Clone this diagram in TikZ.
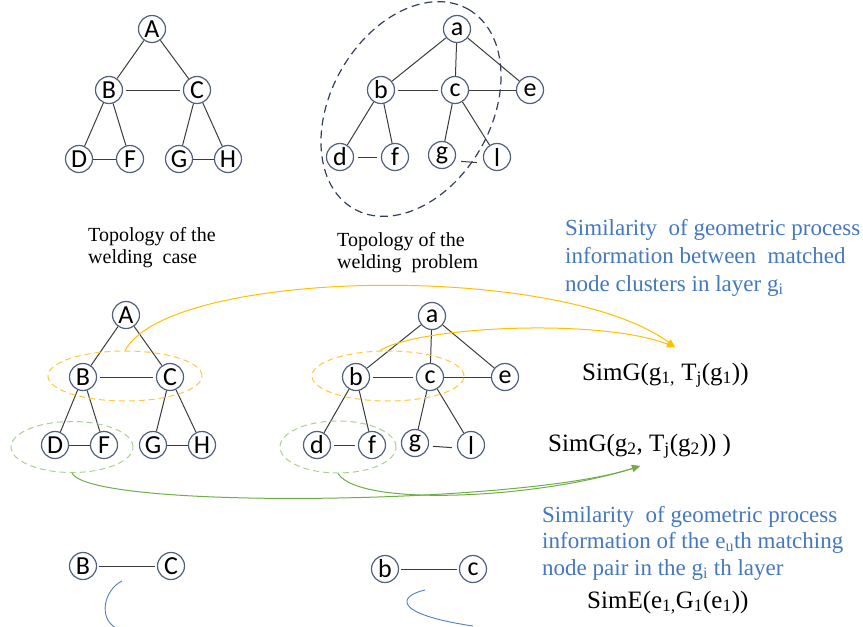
\documentclass[tikz,border=0pt]{standalone}
\usepackage{fontspec}
\setmainfont{Liberation Serif}
\newfontfamily\nodefont{Carlito}
\usetikzlibrary{arrows.meta,shapes.geometric}
\definecolor{nodeborder}{RGB}{80,96,125}
\definecolor{edgegray}{RGB}{60,60,60}
\definecolor{ttblue}{RGB}{68,120,190}
\definecolor{arcblue}{RGB}{80,125,200}
\definecolor{goldc}{RGB}{255,192,0}
\definecolor{goldlt}{RGB}{255,200,60}
\definecolor{greenc}{RGB}{112,173,71}
\definecolor{greenlt}{RGB}{169,209,142}
\definecolor{slate}{RGB}{50,62,90}
\begin{document}
\begin{tikzpicture}[x=1pt,y=-1pt,
  vtx/.style={circle,draw=nodeborder,line width=1.2pt,minimum size=27pt,inner sep=0pt,
    font=\nodefont\fontsize{26}{26}\selectfont},
  edge/.style={draw=edgegray,line width=1pt},
  lbl/.style={anchor=base west,inner sep=0pt,font=\fontsize{20}{22}\selectfont},
  bluetxt/.style={anchor=base west,inner sep=0pt,text=ttblue,font=\fontsize{23}{27}\selectfont},
  simtxt/.style={anchor=base west,inner sep=0pt,font=\fontsize{25}{28}\selectfont},
  clus/.style={ellipse,dashed,dash pattern=on 6pt off 4pt,line width=1pt,inner sep=0pt},
  goldarrow/.style={draw=goldc,line width=1pt,-{Triangle[length=8pt,width=7pt]}},
  greenarrow/.style={draw=greenc,line width=1pt,-{Triangle[length=8pt,width=7pt]}}]
\useasboundingbox (0,0) rectangle (863,627);

% ---------- top-left tree ----------
\node[vtx] (A1) at (152,29) {A};
\node[vtx] (B1) at (109,90) {B};
\node[vtx] (C1) at (197,90) {C};
\node[vtx] (D1) at (79,159) {D};
\node[vtx] (F1) at (130,159) {F};
\node[vtx] (G1) at (179,159) {G};
\node[vtx] (H1) at (228,159) {H};
\draw[edge] (A1) -- (B1);
\draw[edge] (A1) -- (C1);
\draw[edge,shorten <=3pt,shorten >=3pt] (B1) -- (C1);
\draw[edge] (B1) -- (D1);
\draw[edge] (B1) -- (F1);
\draw[edge] (C1) -- (G1);
\draw[edge] (C1) -- (H1);
\draw[edge] (D1) -- (F1);
\draw[edge] (G1) -- (H1);

% ---------- top-right tree ----------
\node[vtx] (a1) at (457,29) {a};
\node[vtx] (b1) at (381,90) {b};
\node[vtx] (c1) at (455,90) {c};
\node[vtx] (e1) at (530,90) {e};
\node[vtx] (d1) at (340,157) {d};
\node[vtx] (f1) at (395,157) {f};
\node[vtx] (g1) at (442,155) {g};
\node[vtx] (l1) at (497,157) {l};
\draw[edge] (a1) -- (b1);
\draw[edge] (a1) -- (c1);
\draw[edge] (a1) -- (e1);
\draw[edge,shorten <=3pt,shorten >=3pt] (b1) -- (c1);
\draw[edge] (c1) -- (e1);
\draw[edge] (b1) -- (d1);
\draw[edge] (b1) -- (f1);
\draw[edge] (c1) -- (g1);
\draw[edge] (c1) -- (l1);
\draw[edge,shorten <=4pt,shorten >=4pt] (d1) -- (f1);
\draw[edge,shorten <=5pt,shorten >=6pt] ([yshift=-6pt]g1.east) -- ([yshift=-6pt]l1.west);
\draw[draw=slate,line width=1.2pt,dash pattern=on 8pt off 5pt,rotate around={60:(411,109)}]
  (411,109) ellipse [x radius=115, y radius=80];

\node[lbl] (t1) at (88,241) {Topology of the};
\node[lbl] (t2) at (88,263) {welding\ \ case};
\node[lbl] (t3) at (337,246) {Topology of the};
\node[lbl] (t4) at (337,268) {welding\ \ problem};

% ---------- second-row left tree ----------
\node[vtx] (A2) at (126,315) {A};
\node[vtx] (B2) at (83,377) {B};
\node[vtx] (C2) at (170,377) {C};
\node[vtx] (D2) at (55,445) {D};
\node[vtx] (F2) at (104,445) {F};
\node[vtx] (G2) at (153,445) {G};
\node[vtx] (H2) at (202,445) {H};
\draw[edge] (A2) -- (B2);
\draw[edge] (A2) -- (C2);
\draw[edge,shorten <=3pt,shorten >=3pt] (B2) -- (C2);
\draw[edge] (B2) -- (D2);
\draw[edge] (B2) -- (F2);
\draw[edge] (C2) -- (G2);
\draw[edge] (C2) -- (H2);
\draw[edge] (D2) -- (F2);
\draw[edge] (G2) -- (H2);

% ---------- second-row right tree ----------
\node[vtx] (a2) at (432,316) {a};
\node[vtx] (b2) at (356,377) {b};
\node[vtx] (c2) at (430,377) {c};
\node[vtx] (e2) at (505,377) {e};
\node[vtx] (d2) at (317,445) {d};
\node[vtx] (f2) at (372,445) {f};
\node[vtx] (g2) at (415,443) {g};
\node[vtx] (l2) at (471,445) {l};
\draw[edge] (a2) -- (b2);
\draw[edge] (a2) -- (c2);
\draw[edge] (a2) -- (e2);
\draw[edge,shorten <=3pt,shorten >=3pt] (b2) -- (c2);
\draw[edge] (c2) -- (e2);
\draw[edge] (b2) -- (d2);
\draw[edge] (b2) -- (f2);
\draw[edge] (c2) -- (g2);
\draw[edge] (c2) -- (l2);
\draw[edge,shorten <=3pt,shorten >=3pt] (d2) -- (f2);
\draw[edge,shorten <=4pt,shorten >=5pt] ([yshift=-3pt]g2.east) -- ([yshift=-3pt]l2.west);

% ---------- cluster ellipses ----------
\node[clus,draw=goldlt,minimum width=154pt,minimum height=50pt] (o1) at (125,376) {};
\node[clus,draw=goldlt,minimum width=152pt,minimum height=50pt] (o2) at (388,376) {};
\node[clus,draw=greenlt,minimum width=122pt,minimum height=51pt] (gr1) at (72,447) {};
\node[clus,draw=greenlt,minimum width=116pt,minimum height=52pt] (gr2) at (338,447) {};

% ---------- right-hand texts ----------
\node[bluetxt] (s1) at (565,235) {Similarity\ \ of geometric process};
\node[bluetxt] (s2) at (565,263) {information between\ \ matched};
\node[bluetxt] (s3) at (565,291) {node clusters in layer g\textsubscript{i}};
\node[simtxt] (simg1) at (582,380) {SimG(g\textsubscript{1,} T\textsubscript{j}(g\textsubscript{1}))};
\node[simtxt] (simg2) at (548,451) {SimG(g\textsubscript{2},\ T\textsubscript{j}(g\textsubscript{2})) )};
\node[bluetxt] (u1) at (542,522) {Similarity\ \ of geometric process};
\node[bluetxt] (u2) at (542,548) {information of the e\textsubscript{u}th matching};
\node[bluetxt] (u3) at (542,575) {node pair in the g\textsubscript{i} th layer};
\node[simtxt] (sime) at (587,608) {SimE(e\textsubscript{1,}G\textsubscript{1}(e\textsubscript{1}))};

\coordinate (tipG) at (675,347);
\coordinate (tipE) at (640,466);

% ---------- arrows ----------
\draw[goldarrow] (o1.north) .. controls (170,268) and (560,262) .. (tipG);
\draw[goldarrow] ([xshift=-8pt]o2.north) .. controls (420,326) and (600,318) .. (tipG);
\draw[greenarrow] (gr1.south) .. controls (90,510) and (520,505) .. (tipE);
\draw[greenarrow] (gr2.south) .. controls (360,508) and (540,498) .. (tipE);

% ---------- bottom pairs ----------
\node[vtx] (B3) at (83,566) {B};
\node[vtx] (C3) at (171,566) {C};
\node[vtx] (b3) at (385,569) {b};
\node[vtx] (c3) at (473,569) {c};
\draw[edge,shorten <=2pt,shorten >=2pt] (B3) -- (C3);
\draw[edge,shorten <=2pt,shorten >=2pt] (b3) -- (c3);
\draw[arcblue,line width=0.9pt] (122,581) .. controls (104,590) and (98,618) .. (116,628);
\draw[arcblue,line width=0.9pt] (425,590) .. controls (398,596) and (392,614) .. (473,626);
\end{tikzpicture}
\end{document}
